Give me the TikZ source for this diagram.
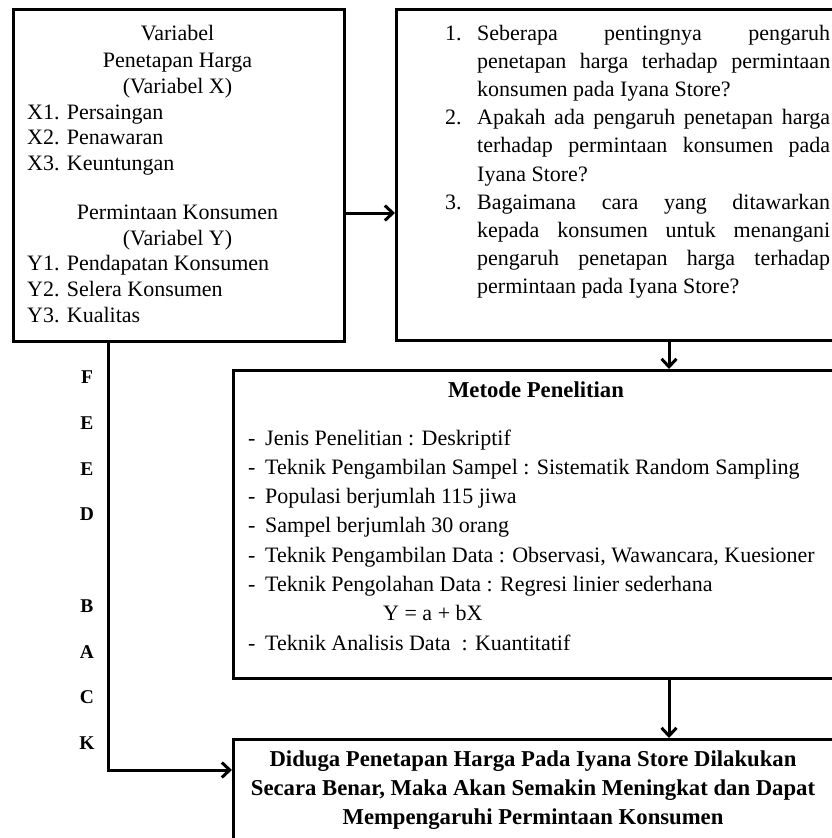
\documentclass[tikz,border=0pt]{standalone}
\usepackage{fontspec}
\setmainfont{Liberation Serif}
\usetikzlibrary{arrows.meta}
\begin{document}
\begin{tikzpicture}[x=1pt,y=-1pt,
  boxframe/.style={draw=black, line width=3pt, anchor=north west, inner sep=0pt},
  conn/.style={draw=black, line width=3pt, -{Straight Barb[length=8pt,width=15pt]}},
  txt/.style={anchor=base west, inner sep=0pt, font=\fontsize{22}{26}\selectfont},
  ctxt/.style={anchor=base, inner sep=0pt, font=\fontsize{22}{26}\selectfont},
  btxt/.style={anchor=base, inner sep=0pt, font=\fontsize{22.7}{26}\selectfont\bfseries},
  fbl/.style={anchor=base, inner sep=0pt, font=\fontsize{19.5}{22}\selectfont\bfseries},
]
\useasboundingbox (0,0) rectangle (832,838);
\clip (0,0) rectangle (832,838);
\fill[white] (0,0) rectangle (832,838);

% boxes
\node[boxframe, minimum width=331pt, minimum height=332pt] (box1) at (12,8) {};
\node[boxframe, minimum width=445pt, minimum height=331pt] (box2) at (395,8) {};
\node[boxframe, minimum width=608pt, minimum height=308pt] (box3) at (232,369) {};
\node[boxframe, minimum width=608pt, minimum height=140pt] (box4) at (232,738) {};

% connectors
\coordinate (a1) at (343,213);
\draw[conn] (a1) -- (a1 -| box2.west);
\coordinate (d1) at (669,339);
\draw[conn] (d1 |- box2.south) -- (d1 |- box3.north);
\draw[conn] (d1 |- box3.south) -- (d1 |- box4.north);
\coordinate (f0) at (108,340);
\coordinate (fk) at (108,770);
\draw[conn] (f0 |- box1.south) -- (fk) -- (fk -| box4.west);

% FEEDBACK letters
\foreach \L/\y [count=\i] in {F/383.5,E/429.25,E/475,D/520.75,B/612.25,A/658,C/703.75,K/749.5}
  \node[fbl] (fb\i) at (87,\y) {\L};

% box 1 text
\node[ctxt] (t1a) at (177.5,40) {Variabel};
\node[ctxt] (t1b) at (177.5,67) {Penetapan Harga};
\node[ctxt] (t1c) at (177.5,93) {(Variabel X)};
\node[txt] (t1d) at (27,119) {X1. Persaingan};
\node[txt] (t1e) at (27,144) {X2. Penawaran};
\node[txt] (t1f) at (27,170) {X3. Keuntungan};
\node[ctxt] (t1g) at (177.5,219) {Permintaan Konsumen};
\node[ctxt] (t1h) at (177.5,245) {(Variabel Y)};
\node[txt] (t1i) at (27,270) {Y1. Pendapatan Konsumen};
\node[txt] (t1j) at (27,296) {Y2. Selera Konsumen};
\node[txt] (t1k) at (27,322) {Y3. Kualitas};

% box 2 text
\node[txt] (n1) at (445,40) {1.};
\node[txt] (n2) at (445,124.6) {2.};
\node[txt] (n3) at (445,209.2) {3.};
\node[txt] (q1) at (477,40) {\makebox[353pt][s]{Seberapa pentingnya pengaruh}};
\node[txt] (q2) at (477,68.2) {\makebox[353pt][s]{penetapan harga terhadap permintaan}};
\node[txt] (q3) at (477,96.4) {konsumen pada Iyana Store?};
\node[txt] (q4) at (477,124.6) {\makebox[353pt][s]{Apakah ada pengaruh penetapan harga}};
\node[txt] (q5) at (477,152.8) {\makebox[353pt][s]{terhadap permintaan konsumen pada}};
\node[txt] (q6) at (477,181) {Iyana Store?};
\node[txt] (q7) at (477,209.2) {\makebox[353pt][s]{Bagaimana cara yang ditawarkan}};
\node[txt] (q8) at (477,237.4) {\makebox[353pt][s]{kepada konsumen untuk menangani}};
\node[txt] (q9) at (477,265.6) {\makebox[353pt][s]{pengaruh penetapan harga terhadap}};
\node[txt] (q10) at (477,293.8) {permintaan pada Iyana Store?};

% box 3 text
\node[btxt] (mt) at (536,397) {Metode Penelitian};
\foreach \y/\T [count=\i] in {
  445/{Jenis Penelitian : Deskriptif},
  474.3/{Teknik Pengambilan Sampel : Sistematik Random Sampling},
  503.6/{Populasi berjumlah 115 jiwa},
  532.9/{Sampel berjumlah 30 orang},
  562.2/{Teknik Pengambilan Data : Observasi, Wawancara, Kuesioner},
  591.5/{Teknik Pengolahan Data : Regresi linier sederhana},
  650.1/{Teknik Analisis Data~ : Kuantitatif}}
{
  \node[txt] (dash\i) at (248,\y) {-};
  \node[txt] (m\i) at (265,\y) {\T};
}
\node[txt] (eq) at (383,620.8) {Y = a + bX};

% box 4 text
\node[btxt] (c1) at (533,766) {Diduga Penetapan Harga Pada Iyana Store Dilakukan};
\node[btxt] (c2) at (533,795) {Secara Benar, Maka Akan Semakin Meningkat dan Dapat};
\node[btxt] (c3) at (533,824) {Mempengaruhi Permintaan Konsumen};
\end{tikzpicture}
\end{document}
